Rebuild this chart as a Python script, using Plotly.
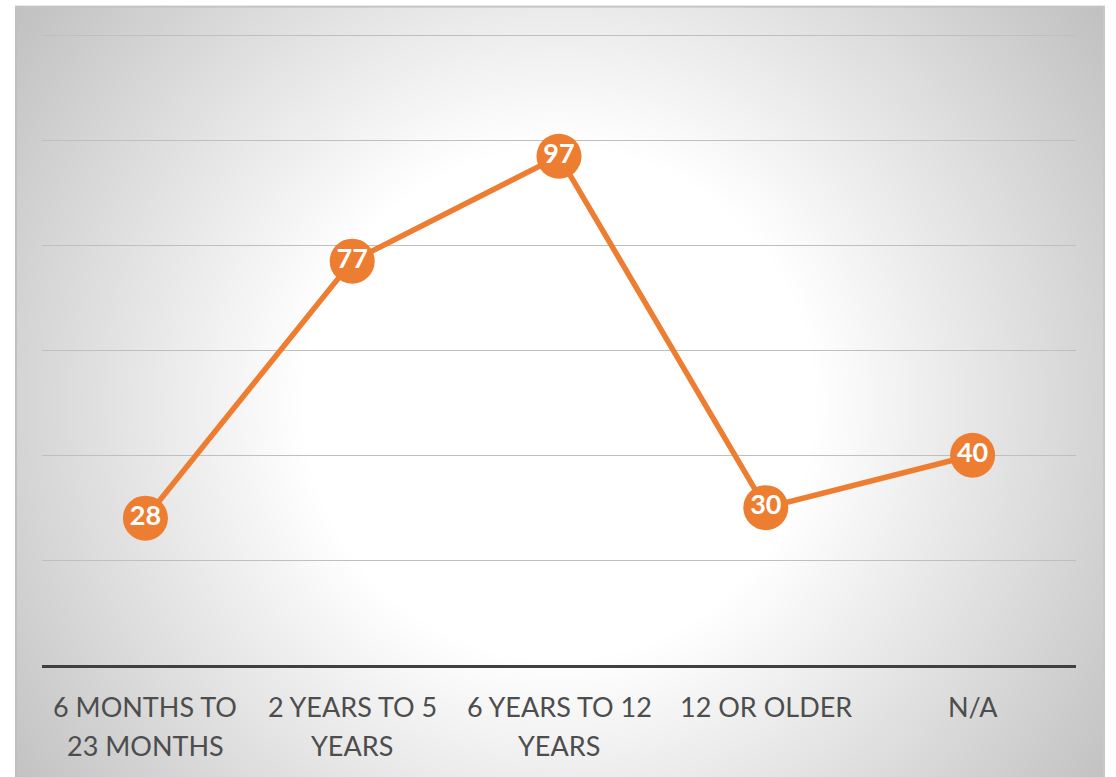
import base64
import struct
import zlib

import numpy as np
import plotly.graph_objects as go

# ---- data ----
categories = ["6 MONTHS TO\n23 MONTHS", "2 YEARS TO 5\nYEARS", "6 YEARS TO 12\nYEARS", "12 OR OLDER", "N/A"]
values = [28, 77, 97, 30, 40]

W, H = 1116, 777
Y_MAX = 120.5
PX_PER_UNIT = 629 / 120
AXIS_Y = 665
ML, MR, MB = 42, 40, H - AXIS_Y
PH = Y_MAX * PX_PER_UNIT
MT = AXIS_Y - PH
PW = W - ML - MR

# ---- background: radial gradient panel (decoration) ----
bx0, by0, bx1, by1 = 15, 6, 1105, 777
bw, bh = bx1 - bx0, by1 - by0
cx, cy = 558 - bx0, 403 - by0
yy, xx = np.mgrid[0:bh, 0:bw]
r = np.sqrt((xx - cx) ** 2 + (yy - cy) ** 2)
img = 255 - 0.15 * np.clip(r - 258, 0, None)
img = np.clip(img, 185, 255)
img[:, :2] = 192
img[:2, :] = 196
img[:, -2:] = 200
img = img.astype(np.uint8)


def png_gray(a):
    h, w = a.shape
    raw = b"".join(b"\x00" + a[i].tobytes() for i in range(h))

    def chunk(t, d):
        c = struct.pack(">I", len(d)) + t + d
        return c + struct.pack(">I", zlib.crc32(t + d) & 0xFFFFFFFF)

    return (b"\x89PNG\r\n\x1a\n" + chunk(b"IHDR", struct.pack(">IIBBBBB", w, h, 8, 0, 0, 0, 0))
            + chunk(b"IDAT", zlib.compress(raw, 9)) + chunk(b"IEND", b""))


src = "data:image/png;base64," + base64.b64encode(png_gray(img)).decode()

fig = go.Figure()
fig.add_trace(go.Scatter(
    x=list(range(len(categories))),
    y=values,
    mode="lines+markers+text",
    line=dict(color="#ED7D31", width=5.5),
    marker=dict(color="#ED7D31", size=45, line=dict(width=0)),
    text=[str(v) for v in values],
    textposition="middle center",
    textfont=dict(family="Lato", size=27, color="white", weight="bold"),
    hoverinfo="skip",
    cliponaxis=False,
))

fig.add_layout_image(dict(
    source=src, xref="paper", yref="paper",
    x=(bx0 - ML) / PW, y=(AXIS_Y - by0) / PH,
    sizex=bw / PW, sizey=bh / PH,
    xanchor="left", yanchor="top", sizing="stretch", layer="below",
))

# category labels (one annotation per text line for Office-like line spacing)
LINE_OFFSETS = [41, 80]
for i, cat in enumerate(categories):
    for j, line in enumerate(cat.split("\n")):
        fig.add_annotation(
            x=i, xref="x", y=0, yref="paper",
            text=line, showarrow=False,
            xanchor="center", yanchor="middle",
            yshift=-LINE_OFFSETS[j],
            font=dict(family="Lato", size=27, color="#4d4d4d"),
        )

fig.update_layout(
    width=W, height=H,
    margin=dict(l=ML, r=MR, t=MT, b=MB, pad=0),
    paper_bgcolor="white",
    plot_bgcolor="rgba(0,0,0,0)",
    showlegend=False,
    font=dict(family="Lato", color="#4d4d4d"),
    xaxis=dict(
        range=[-0.5, len(categories) - 0.5],
        tickmode="array",
        tickvals=list(range(len(categories))),
        showticklabels=False,
        showgrid=False, zeroline=False,
        showline=True, linecolor="#404040", linewidth=3,
        ticks="",
        fixedrange=True,
    ),
    yaxis=dict(
        range=[0, Y_MAX], dtick=20, tick0=0,
        showticklabels=False, ticks="",
        showgrid=True, gridcolor="#bfbfbf", gridwidth=1.3,
        zeroline=False, showline=False,
        fixedrange=True,
    ),
)

fig.write_html(
    "out.html",
    config={"displayModeBar": False},
    post_script="document.body.style.margin='0';document.body.style.overflow='hidden';",
)
